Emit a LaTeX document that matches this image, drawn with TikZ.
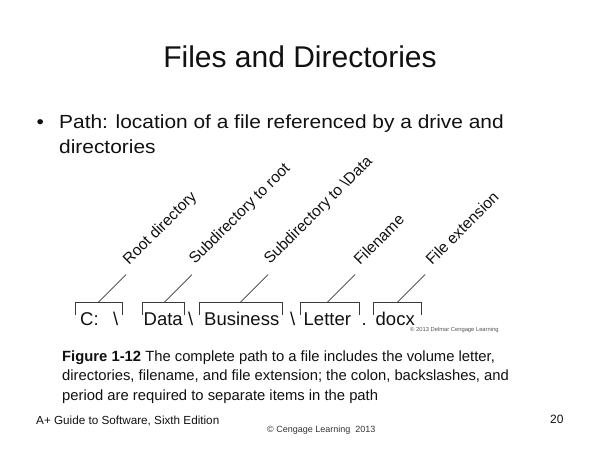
\documentclass[tikz,border=0pt]{standalone}
\usepackage{fontspec}
\usepackage{graphicx}
\setmainfont{Liberation Sans}
\definecolor{brgray}{HTML}{3A3A3A}
\definecolor{txt}{HTML}{111111}
\definecolor{smallgray}{HTML}{555555}
\begin{document}
\begin{tikzpicture}[x=1pt,y=1pt,
  br/.style={draw=brgray, line width=0.8pt},
  lead/.style={draw=brgray, line width=0.7pt},
  lbl/.style={anchor=base west, rotate=45, inner sep=0pt, text=txt, font=\fontsize{15.5}{18}\selectfont},
  pth/.style={anchor=base west, inner sep=0pt, text=txt, font=\fontsize{18.5}{22}\selectfont},
  plain/.style={anchor=base west, inner sep=0pt, text=txt}
  ]
\useasboundingbox[fill=white] (0,0) rectangle (600,-450);

% title
\node[anchor=base, inner sep=0pt, text=txt, font=\fontsize{30}{36}\selectfont] (title) at (300,-67) {Files and Directories};

% bullet
\node[plain, font=\fontsize{19}{23}\selectfont] (bul) at (36.5,-128) {\scalebox{1.1}[1]{•}};
\node[plain, font=\fontsize{19}{23}\selectfont] (b1) at (59,-128) {\scalebox{1.1}[1]{Path: location of a file referenced by a drive and}};
\node[plain, font=\fontsize{19}{23}\selectfont] (b2) at (59,-153) {\scalebox{1.1}[1]{directories}};

% path tokens
\node[pth] (pc) at (80,-325) {C:};
\node[pth] (bs1) at (113,-325) {\textbackslash};
\node[pth] (pdata) at (143.5,-325) {Data};
\node[pth] (bs2) at (188,-325) {\textbackslash};
\node[pth] (pbus) at (204,-325) {Business};
\node[pth] (bs3) at (290,-325) {\textbackslash};
\node[pth] (plet) at (303.5,-325) {Letter};
\node[pth] (pdot) at (361.5,-325) {.};
\node[pth] (pdocx) at (375.5,-325) {docx};
\node[plain, text=smallgray, font=\fontsize{5.8}{7}\selectfont] (cr1) at (410,-331.5) {© 2013 Delmar Cengage Learning};

% brackets
\draw[br] (75,-314.5) |- (122,-302.5) -- (122,-314.5);
\draw[br] (142,-314.5) |- (184,-302.5) -- (184,-314.5);
\draw[br] (199,-314.5) |- (282,-302.5) -- (282,-314.5);
\draw[br] (300,-314.5) |- (359,-302.5) -- (359,-314.5);
\draw[br] (373,-314.5) |- (421,-302.5) -- (421,-314.5);

% leaders
\coordinate (f1) at (98,-302.5);  \coordinate (e1) at (126,-274.5);
\coordinate (f2) at (164,-302.5); \coordinate (e2) at (192,-274.5);
\coordinate (f3) at (240,-302.5); \coordinate (e3) at (268,-274.5);
\coordinate (f4) at (327,-302.5); \coordinate (e4) at (355,-274.5);
\coordinate (f5) at (397,-302.5); \coordinate (e5) at (425,-274.5);
\draw[lead] (f1) -- (e1);
\draw[lead] (f2) -- (e2);
\draw[lead] (f3) -- (e3);
\draw[lead] (f4) -- (e4);
\draw[lead] (f5) -- (e5);

% labels
\node[lbl] (l1) at (129,-266) {Root directory};
\node[lbl] (l2) at (195,-265) {Subdirectory to root};
\node[lbl] (l3) at (270,-265) {Subdirectory to \textbackslash Data};
\node[lbl] (l4) at (360,-266) {Filename};
\node[lbl] (l5) at (432,-266) {File extension};

% caption
\node[plain, font=\fontsize{14.8}{18}\selectfont] (c1) at (62,-361.5) {\textbf{Figure 1-12} The complete path to a file includes the volume letter,};
\node[plain, font=\fontsize{14.8}{18}\selectfont] (c2) at (62,-380.7) {directories, filename, and file extension; the colon, backslashes, and};
\node[plain, font=\fontsize{14.8}{18}\selectfont] (c3) at (62,-400) {period are required to separate items in the path};

% footer
\node[plain, font=\fontsize{11.7}{14}\selectfont] (foot) at (36,-424) {A+ Guide to Software, Sixth Edition};
\node[plain, text=black!80, font=\fontsize{9}{11}\selectfont] (cr2) at (267,-432) {© Cengage Learning~~2013};
\node[plain, font=\fontsize{12}{14}\selectfont] (pg) at (550,-423) {20};
\end{tikzpicture}
\end{document}
